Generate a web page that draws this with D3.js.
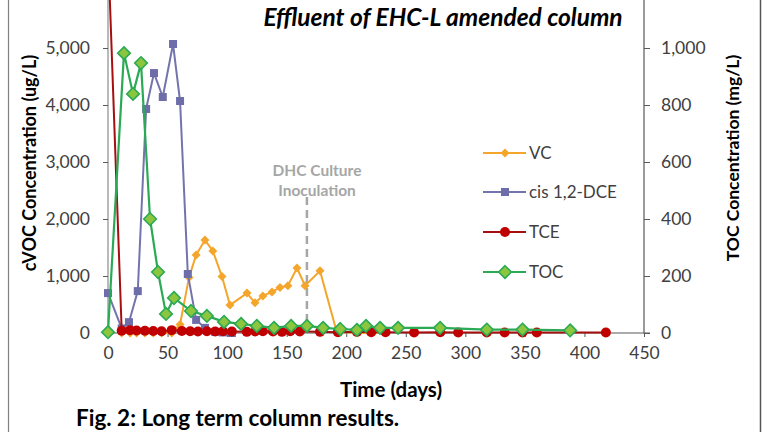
<!DOCTYPE html>
<html><head><meta charset="utf-8">
<script src="https://cdn.jsdelivr.net/npm/d3@7"></script>
<style>body{margin:0;background:#fff}svg{display:block;font-family:Lato,"Open Sans",sans-serif}</style>
</head><body><svg id="c" width="768" height="432"></svg>
<script>
// ---- data ----
const xTicks = [0,50,100,150,200,250,300,350,400,450];
const leftTicks = [0,1000,2000,3000,4000,5000];
const rightTicks = [0,200,400,600,800,1000];

const vcDays = [11.5,18.5,24,31,38,45,53.5,60.5,68,74,81.4,88,95.7,102.4,116.7,123.4,130,137.7,144.4,151,158.7,165.4,178,192,209,221,233];
const vcVals = [0,0,0,0,0,0,0,150,975,1370,1630,1440,990,490,700,530,650,720,800,830,1140,830,1090,20,0,0,0];

const dceDays = [0,11.5,17.6,25,32,38.6,46,54.6,60.5,67,74,81.4,90,96.5,104];
const dceVals = [700,80,190,735,3930,4560,4140,5070,4070,1035,230,90,20,10,0];

const tceDays = [0,11.5,18.5,24,31,38,45,53.5,62,69,75.5,83,90,96.5,104,116.5,123.5,130,138.5,146,153,161,178,193,209,221,233,257,279,294,318,333,348,360,418];
const tceVals = [6750,40,50,45,40,35,30,50,35,30,25,30,25,30,25,20,25,30,25,20,30,25,20,15,20,15,15,10,15,10,10,10,10,10,10];

const tocDays = [0,13.4,21,27.7,35.3,42,48.7,55.4,69.7,83,97.4,111.7,125,139.4,153.7,167,180.6,195,209,216.6,228.4,243.5,278.8,318,348,388];
const tocVals = [3,982,839,947,400,214,67,123,77,60,39,32,25,18,25,25,18,14,11,25,18,18,18,12,12,9];

const seriesNames = ["VC","cis 1,2-DCE","TCE","TOC"];

// ---- layout ----
const svg = d3.select("#c");
const X0 = 108, X1 = 644, Y0 = 333, YT = -9;
const x = d3.scaleLinear().domain([0,450]).range([X0,X1]);
const yL = d3.scaleLinear().domain([0,6000]).range([Y0,YT]);
const yR = d3.scaleLinear().domain([0,1200]).range([Y0,YT]);
const fmt = d3.format(",");

// frame
svg.append("line").attr("x1",8.5).attr("x2",8.5).attr("y1",0).attr("y2",432).attr("stroke","#7f7f7f").attr("stroke-width",1.2);
svg.append("line").attr("x1",760.5).attr("x2",760.5).attr("y1",0).attr("y2",432).attr("stroke","#555").attr("stroke-width",1.5);

// axes
const gx = svg.append("g").attr("transform",`translate(0,${Y0})`)
  .call(d3.axisBottom(x).tickValues(xTicks).tickFormat(d3.format("d")).tickSize(4).tickPadding(10));
const gl = svg.append("g").attr("transform",`translate(${X0},0)`)
  .call(d3.axisLeft(yL).tickValues(leftTicks).tickFormat(fmt).tickSize(5).tickPadding(13));
const gr = svg.append("g").attr("transform",`translate(${X1},0)`)
  .call(d3.axisRight(yR).tickValues(rightTicks).tickFormat(fmt).tickSize(6).tickPadding(11));
[gx,gl,gr].forEach(g=>{
  g.selectAll("text").attr("font-size",17.5).attr("fill","#404040").attr("font-family","Lato,sans-serif");
  g.selectAll("line").attr("stroke","#595959");
  g.select(".domain").attr("stroke","#595959").attr("stroke-width",1.2);
});
gl.select(".domain").attr("d",`M-5,${Y0}H0V${YT}`).attr("stroke","#8c8c8c");
gr.select(".domain").attr("d",`M6,${Y0}H0V${YT}`);
gx.select(".domain").attr("d",`M${X0},0H${X1}`);

// inoculation marker
svg.append("line").attr("x1",x(167)).attr("x2",x(167)).attr("y1",197).attr("y2",Y0)
  .attr("stroke","#a6a6a6").attr("stroke-width",2.5).attr("stroke-dasharray","8,5");
svg.append("text").attr("x",317).attr("y",176).attr("text-anchor","middle").attr("font-size",15.5).attr("font-weight","bold").attr("fill","#a6a6a6").text("DHC Culture");
svg.append("text").attr("x",317).attr("y",196).attr("text-anchor","middle").attr("font-size",15.5).attr("font-weight","bold").attr("fill","#a6a6a6").text("Inoculation");

// series
function draw(days, vals, ys, color, lw, marker){
  const pts = days.map((d,i)=>[x(d), ys(vals[i])]);
  svg.append("path").attr("d",d3.line()(pts)).attr("fill","none").attr("stroke",color.line).attr("stroke-width",lw);
  const g = svg.append("g");
  pts.forEach(p=>marker(g,p[0],p[1]));
}
const diamond = (s,fill,stroke,sw)=>(g,cx,cy)=>g.append("path")
  .attr("d",`M${cx},${cy-s}L${cx+s},${cy}L${cx},${cy+s}L${cx-s},${cy}Z`).attr("fill",fill).attr("stroke",stroke).attr("stroke-width",sw);
const square = (s,fill)=>(g,cx,cy)=>g.append("rect").attr("x",cx-s).attr("y",cy-s).attr("width",2*s).attr("height",2*s).attr("fill",fill);
const circle = (r,fill)=>(g,cx,cy)=>g.append("circle").attr("cx",cx).attr("cy",cy).attr("r",r).attr("fill",fill);

const styles = [
  {line:"#F4A52B", lw:2, m:diamond(4.5,"#F4A52B","none",0)},
  {line:"#7474AD", lw:2, m:square(4,"#6D6DAA")},
  {line:"#A50F0F", lw:2, m:circle(5,"#C00000")},
  {line:"#2BAA55", lw:2.2, m:diamond(6.3,"#8CC63E","#2BAA55",1.6)}
];
draw(vcDays, vcVals, yL, styles[0], styles[0].lw, styles[0].m);
draw(dceDays, dceVals, yL, styles[1], styles[1].lw, styles[1].m);
draw(tceDays, tceVals, yL, styles[2], styles[2].lw, styles[2].m);
draw(tocDays, tocVals, yR, styles[3], styles[3].lw, styles[3].m);

// legend
const legY = [153,192,232,272];
seriesNames.forEach((n,i)=>{
  const s = styles[i];
  svg.append("line").attr("x1",483).attr("x2",526).attr("y1",legY[i]).attr("y2",legY[i]).attr("stroke",s.line).attr("stroke-width",s.lw);
  s.m(svg,505,legY[i]);
  svg.append("text").attr("x",529).attr("y",legY[i]).attr("dy","0.35em").attr("font-size",17).attr("fill","#404040").text(n);
});

// titles
svg.append("text").attr("x",443).attr("y",26).attr("text-anchor","middle").attr("font-size",24.5).attr("font-weight","bold").attr("font-style","italic").attr("fill","#000").text("Effluent of EHC-L amended column");
svg.append("text").attr("transform","translate(36,163) rotate(-90)").attr("text-anchor","middle").attr("font-size",18).attr("font-weight","bold").text("cVOC Concentration (ug/L)");
svg.append("text").attr("transform","translate(739,158) rotate(-90)").attr("text-anchor","middle").attr("font-size",17.5).attr("font-weight","bold").text("TOC Concentration (mg/L)");
svg.append("text").attr("x",391).attr("y",397).attr("text-anchor","middle").attr("font-size",20.5).attr("font-weight","bold").text("Time (days)");
svg.append("text").attr("x",76).attr("y",426).attr("font-size",22.5).attr("font-weight","bold").text("Fig. 2: Long term column results.");
</script></body></html>
